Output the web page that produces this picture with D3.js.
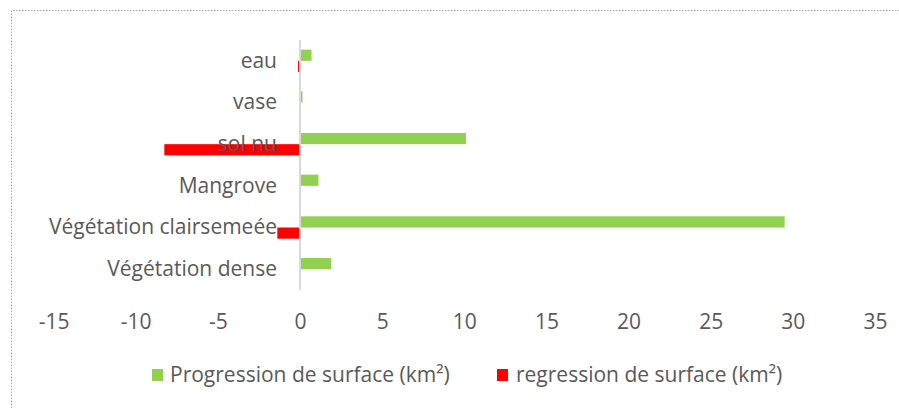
<!DOCTYPE html>
<html><head><meta charset="utf-8">
<script src="https://cdn.jsdelivr.net/npm/d3@7"></script>
<style>body{margin:0;background:#fff}svg{display:block}</style>
</head><body>
<script>
const categories = ["eau","vase","sol nu","Mangrove","Végétation clairsemeée","Végétation dense"];
const progression = [0.7, 0.15, 10.1, 1.12, 29.5, 1.9];
const regression = [-0.12, 0, -8.26, -0.06, -1.38, 0];
const xTicks = [-15,-10,-5,0,5,10,15,20,25,30,35];
const seriesNames = ["Progression de surface (km²)","regression de surface (km²)"];
const colors = ["#92d050","#ff0000"];

const W=899,H=408;
const svg=d3.select("body").append("svg").attr("width",W).attr("height",H);
const font="'Open Sans', sans-serif";
const txt="#595959";
const fs=21;

// dotted frame
svg.append("path").attr("d","M11.5,408 V10.5 H899").attr("fill","none")
  .attr("stroke","#a6a6a6").attr("stroke-width",1).attr("stroke-dasharray","1.5,1.5");

const x=d3.scaleLinear().domain([-15,35]).range([53.6,875]);
const y=d3.scaleBand().domain(categories).range([40,290]);
const inner=d3.scaleBand().domain([0,1]).range([0,y.bandwidth()]).paddingInner(0).paddingOuter(0.86);

const series=[progression,regression];
series.forEach((vals,s)=>{
  svg.append("g").selectAll("rect").data(categories).join("rect")
    .attr("x",(d,i)=>x(Math.min(0,vals[i])))
    .attr("width",(d,i)=>Math.abs(x(vals[i])-x(0)))
    .attr("y",d=>y(d)+inner(s))
    .attr("height",inner.bandwidth())
    .attr("fill",colors[s]);
});

// vertical axis line
svg.append("line").attr("x1",x(0)).attr("x2",x(0)).attr("y1",40).attr("y2",290)
  .attr("stroke","#d9d9d9").attr("stroke-width",2);

// category labels
svg.append("g").selectAll("text").data(categories).join("text")
  .attr("x",277).attr("y",d=>y(d)+y.bandwidth()/2).attr("dy","0.33em")
  .attr("text-anchor","end").attr("font-family",font).attr("font-size",fs)
  .attr("fill",txt).text(d=>d);

// x tick labels
const xa=d3.axisBottom(x).tickValues(xTicks).tickSize(0).tickFormat(d3.format("d"));
const g=svg.append("g").attr("transform","translate(0,311)").call(xa);
g.select(".domain").remove();
g.selectAll("text").attr("font-family",font).attr("font-size",fs).attr("fill",txt)
  .text(d=>d<0?"-"+Math.abs(d):d);

// legend
const leg=[{x:152,tx:170},{x:497,tx:516}];
seriesNames.forEach((n,i)=>{
  svg.append("rect").attr("x",leg[i].x).attr("y",369).attr("width",11).attr("height",12).attr("fill",colors[i]);
  svg.append("text").attr("x",leg[i].tx).attr("y",375).attr("dy","0.35em")
    .attr("font-family",font).attr("font-size",fs).attr("fill",txt).text(n);
});
</script>
</body></html>
